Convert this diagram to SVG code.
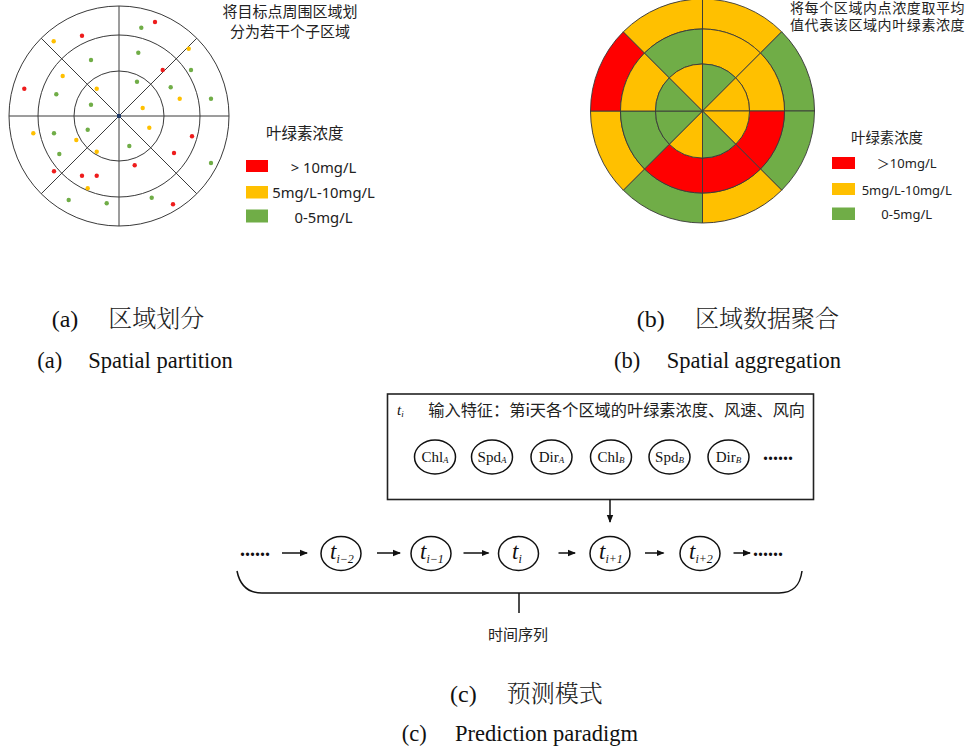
<svg xmlns="http://www.w3.org/2000/svg" xmlns:xlink="http://www.w3.org/1999/xlink" width="970" height="751" viewBox="0 0 970 751">
<style>
.bg{fill:#fff}
.ln{stroke:#3a3a3a;stroke-width:1;fill:none}
.sec{stroke:#3a3a3a;stroke-width:0.9}
.R{fill:#ff0000}.Y{fill:#ffc000}.G{fill:#70ad47}
.dr{fill:#ee1c1c}.dy{fill:#ffc000}.dg{fill:#70ad47}
.cjk{font-family:"Noto Sans CJK SC","Noto Sans",sans-serif;fill:#222}
.leg{font-family:"Noto Sans","Noto Sans CJK SC",sans-serif;fill:#222}
.cap{font-family:"Liberation Serif","Noto Serif CJK SC","Noto Sans CJK SC",serif;fill:#111}
.capz{font-weight:300;fill:#222}
.ser{font-family:"Liberation Serif",serif;fill:#111}
.it{font-style:italic}
.nd{fill:#fff;stroke:#111;stroke-width:1.5}
.con{stroke:#111;stroke-width:1.5;fill:none}
</style>
<defs>
<radialGradient id="lg" cx="0.5" cy="0.5" r="0.5">
<stop offset="0" stop-color="#ffffff"/>
<stop offset="0.6" stop-color="#f7f8fc"/>
<stop offset="1" stop-color="#e7ebf4"/>
</radialGradient>
<path id="so" d="M0,-112 A112,112 0 0 1 79.196,-79.196 L57.983,-57.983 A82,82 0 0 0 0,-82 Z"/>
<path id="sm" d="M0,-82 A82,82 0 0 1 57.983,-57.983 L33.234,-33.234 A47,47 0 0 0 0,-47 Z"/>
<path id="si" d="M0,0 L0,-47 A47,47 0 0 1 33.234,-33.234 Z"/>
<marker id="ah" markerWidth="8" markerHeight="8" refX="7" refY="4" orient="auto" markerUnits="userSpaceOnUse">
<path d="M0,0.8 L8,4 L0,7.2 Z" fill="#111"/>
</marker>
</defs>
<rect class="bg" x="0" y="0" width="970" height="751"/>

<g id="partition">
<circle cx="119" cy="116" r="110" fill="url(#lg)" class="ln"/>
<circle cx="119" cy="116" r="81" class="ln"/>
<circle cx="119" cy="116" r="45" class="ln"/>
<line class="ln" x1="9" y1="116" x2="229" y2="116"/>
<line class="ln" x1="119" y1="6" x2="119" y2="226"/>
<line class="ln" x1="41.2" y1="38.2" x2="196.8" y2="193.8"/>
<line class="ln" x1="196.8" y1="38.2" x2="41.2" y2="193.8"/>
<rect x="117" y="114" width="4" height="4" fill="#1f3864"/>
<g>
<circle class="dg" cx="141.3" cy="27.7" r="2.2"/>
<circle class="dr" cx="155" cy="22" r="2.2"/>
<circle class="dr" cx="82" cy="35.7" r="2.2"/>
<circle class="dy" cx="53.7" cy="41.3" r="2.2"/>
<circle class="dy" cx="188.7" cy="48.7" r="2.2"/>
<circle class="dg" cx="138.3" cy="52.7" r="2.2"/>
<circle class="dg" cx="91" cy="60" r="2.2"/>
<circle class="dr" cx="162.7" cy="70" r="2.2"/>
<circle class="dg" cx="191" cy="70" r="2.2"/>
<circle class="dy" cx="62.7" cy="76" r="2.2"/>
<circle class="dg" cx="137" cy="81.7" r="2.2"/>
<circle class="dg" cx="170.7" cy="87.3" r="2.2"/>
<circle class="dr" cx="24.3" cy="88.7" r="2.2"/>
<circle class="dy" cx="96.7" cy="88.7" r="2.2"/>
<circle class="dg" cx="56.3" cy="94.3" r="2.2"/>
<circle class="dy" cx="179.7" cy="98.7" r="2.2"/>
<circle class="dg" cx="211" cy="98.7" r="2.2"/>
<circle class="dg" cx="91" cy="104.7" r="2.2"/>
<circle class="dy" cx="142.7" cy="108" r="2.2"/>
<circle class="dy" cx="149.3" cy="127.7" r="2.2"/>
<circle class="dg" cx="87.7" cy="129.7" r="2.2"/>
<circle class="dy" cx="33.3" cy="133.3" r="2.2"/>
<circle class="dg" cx="54" cy="133.3" r="2.2"/>
<circle class="dr" cx="192" cy="136.3" r="2.2"/>
<circle class="dy" cx="76.3" cy="140" r="2.2"/>
<circle class="dg" cx="129.3" cy="146" r="2.2"/>
<circle class="dy" cx="96.7" cy="151.7" r="2.2"/>
<circle class="dr" cx="174" cy="153" r="2.2"/>
<circle class="dg" cx="59.3" cy="154" r="2.2"/>
<circle class="dg" cx="211" cy="163" r="2.2"/>
<circle class="dr" cx="134.7" cy="165.3" r="2.2"/>
<circle class="dr" cx="54" cy="171.3" r="2.2"/>
<circle class="dr" cx="82" cy="175.7" r="2.2"/>
<circle class="dr" cx="96.7" cy="175.7" r="2.2"/>
<circle class="dy" cx="87.7" cy="188.3" r="2.2"/>
<circle class="dg" cx="151.7" cy="197.7" r="2.2"/>
<circle class="dg" cx="68.7" cy="200" r="2.2"/>
<circle class="dg" cx="106.7" cy="203.3" r="2.2"/>
<circle class="dr" cx="173" cy="204.3" r="2.2"/>
</g>
<text class="cjk" x="290" y="17" font-size="15" text-anchor="middle">将目标点周围区域划</text>
<text class="cjk" x="290" y="37" font-size="15" text-anchor="middle">分为若干个子区域</text>
<text class="cjk" x="266" y="139" font-size="15.5">叶绿素浓度</text>
<rect class="R" x="246" y="160" width="22" height="12"/>
<rect class="Y" x="246" y="186" width="22" height="12.5"/>
<rect class="G" x="246" y="209.5" width="22" height="13"/>
<text class="leg" x="323.5" y="173" font-size="14.8" text-anchor="middle">&gt; 10mg/L</text>
<text class="leg" x="323.5" y="198" font-size="14.8" text-anchor="middle">5mg/L-10mg/L</text>
<text class="leg" x="323.5" y="222.5" font-size="14.8" text-anchor="middle">0-5mg/L</text>
</g>

<g id="aggregation">
<g transform="translate(702.5 111)">
<use xlink:href="#so" class="sec Y" transform="rotate(0)"/>
<use xlink:href="#so" class="sec G" transform="rotate(45)"/>
<use xlink:href="#so" class="sec G" transform="rotate(90)"/>
<use xlink:href="#so" class="sec Y" transform="rotate(135)"/>
<use xlink:href="#so" class="sec G" transform="rotate(180)"/>
<use xlink:href="#so" class="sec Y" transform="rotate(225)"/>
<use xlink:href="#so" class="sec R" transform="rotate(270)"/>
<use xlink:href="#so" class="sec Y" transform="rotate(315)"/>
<use xlink:href="#sm" class="sec Y" transform="rotate(0)"/>
<use xlink:href="#sm" class="sec Y" transform="rotate(45)"/>
<use xlink:href="#sm" class="sec R" transform="rotate(90)"/>
<use xlink:href="#sm" class="sec R" transform="rotate(135)"/>
<use xlink:href="#sm" class="sec R" transform="rotate(180)"/>
<use xlink:href="#sm" class="sec G" transform="rotate(225)"/>
<use xlink:href="#sm" class="sec Y" transform="rotate(270)"/>
<use xlink:href="#sm" class="sec G" transform="rotate(315)"/>
<use xlink:href="#si" class="sec G" transform="rotate(0)"/>
<use xlink:href="#si" class="sec Y" transform="rotate(45)"/>
<use xlink:href="#si" class="sec Y" transform="rotate(90)"/>
<use xlink:href="#si" class="sec G" transform="rotate(135)"/>
<use xlink:href="#si" class="sec Y" transform="rotate(180)"/>
<use xlink:href="#si" class="sec G" transform="rotate(225)"/>
<use xlink:href="#si" class="sec G" transform="rotate(270)"/>
<use xlink:href="#si" class="sec Y" transform="rotate(315)"/>
</g>
<text class="cjk" x="790" y="13" font-size="14" letter-spacing="0.6">将每个区域内点浓度取平均</text>
<text class="cjk" x="790" y="30" font-size="14" letter-spacing="0.6">值代表该区域内叶绿素浓度</text>
<text class="cjk" x="851" y="142.5" font-size="14.4">叶绿素浓度</text>
<rect class="R" x="832" y="157" width="23" height="12"/>
<rect class="Y" x="832" y="183" width="23" height="12"/>
<rect class="G" x="832" y="207.5" width="23" height="12.5"/>
<text class="leg" x="906.7" y="168.3" font-size="13" text-anchor="middle">＞10mg/L</text>
<text class="leg" x="906.7" y="195" font-size="13" text-anchor="middle">5mg/L-10mg/L</text>
<text class="leg" x="906.7" y="219" font-size="13" text-anchor="middle">0-5mg/L</text>
</g>

<g id="captions">
<text class="cap" y="327" font-size="24"><tspan x="51.7">(a)</tspan><tspan class="capz" x="108.3">区域划分</tspan></text>
<text class="cap" y="368" font-size="22.5"><tspan x="37.3">(a)</tspan><tspan x="88.3">Spatial partition</tspan></text>
<text class="cap" y="327" font-size="24"><tspan x="636.7">(b)</tspan><tspan class="capz" x="695">区域数据聚合</tspan></text>
<text class="cap" y="368" font-size="22.5"><tspan x="614">(b)</tspan><tspan x="666.7">Spatial aggregation</tspan></text>
<text class="cap" y="701.5" font-size="24"><tspan x="450">(c)</tspan><tspan class="capz" x="506.7">预测模式</tspan></text>
<text class="cap" y="741" font-size="22.5"><tspan x="401.7">(c)</tspan><tspan x="455">Prediction paradigm</tspan></text>
</g>

<g id="input-box">
<rect x="387.5" y="394" width="426" height="105.5" fill="#fff" stroke="#222" stroke-width="1.6"/>
<text class="ser it" x="397" y="415" font-size="15" fill="#444">t<tspan font-size="9" dy="2">i</tspan></text>
<text class="cjk" x="428.3" y="416" font-size="16.2">输入特征：第i天各个区域的叶绿素浓度、风速、风向</text>
</g>
<g id="feat-chlA"><ellipse class="nd" cx="435" cy="457" rx="20.5" ry="17"/><text class="ser" x="435" y="462" font-size="15" text-anchor="middle">Chl<tspan class="it" font-size="9" dy="1">A</tspan></text></g>
<g id="feat-spdA"><ellipse class="nd" cx="492" cy="457" rx="20.5" ry="17"/><text class="ser" x="492" y="462" font-size="15" text-anchor="middle">Spd<tspan class="it" font-size="9" dy="1">A</tspan></text></g>
<g id="feat-dirA"><ellipse class="nd" cx="551.5" cy="457" rx="20.5" ry="17"/><text class="ser" x="551.5" y="462" font-size="15" text-anchor="middle">Dir<tspan class="it" font-size="9" dy="1">A</tspan></text></g>
<g id="feat-chlB"><ellipse class="nd" cx="611" cy="457" rx="20.5" ry="17"/><text class="ser" x="611" y="462" font-size="15" text-anchor="middle">Chl<tspan class="it" font-size="9" dy="1">B</tspan></text></g>
<g id="feat-spdB"><ellipse class="nd" cx="669.5" cy="457" rx="20.5" ry="17"/><text class="ser" x="669.5" y="462" font-size="15" text-anchor="middle">Spd<tspan class="it" font-size="9" dy="1">B</tspan></text></g>
<g id="feat-dirB"><ellipse class="nd" cx="728.5" cy="457" rx="20.5" ry="17"/><text class="ser" x="728.5" y="462" font-size="15" text-anchor="middle">Dir<tspan class="it" font-size="9" dy="1">B</tspan></text></g>
<text class="ser" x="763" y="460" font-size="20" font-weight="bold">......</text>

<g id="t-im2"><ellipse class="nd" cx="341" cy="553.5" rx="20" ry="17"/><text class="ser it" x="330" y="559" font-size="23">t<tspan font-size="12" dy="4">i−2</tspan></text></g>
<g id="t-im1"><ellipse class="nd" cx="431" cy="553.5" rx="20" ry="17"/><text class="ser it" x="420" y="559" font-size="23">t<tspan font-size="12" dy="4">i−1</tspan></text></g>
<g id="t-i"><ellipse class="nd" cx="518.5" cy="553.5" rx="20" ry="17"/><text class="ser it" x="512" y="559" font-size="23">t<tspan font-size="12" dy="4">i</tspan></text></g>
<g id="t-ip1"><ellipse class="nd" cx="610" cy="553.5" rx="20" ry="17"/><text class="ser it" x="599" y="559" font-size="23">t<tspan font-size="12" dy="4">i+1</tspan></text></g>
<g id="t-ip2"><ellipse class="nd" cx="700" cy="553.5" rx="20" ry="17"/><text class="ser it" x="689" y="559" font-size="23">t<tspan font-size="12" dy="4">i+2</tspan></text></g>
<text class="ser" x="240" y="556" font-size="20" font-weight="bold">......</text>
<text class="ser" x="753" y="556" font-size="20" font-weight="bold">......</text>

<g id="connectors">
<line class="con" x1="610" y1="499.5" x2="610" y2="522" marker-end="url(#ah)"/>
<line class="con" x1="282" y1="553" x2="307" y2="553" marker-end="url(#ah)"/>
<line class="con" x1="377" y1="553" x2="400" y2="553" marker-end="url(#ah)"/>
<line class="con" x1="463.5" y1="553" x2="488.5" y2="553" marker-end="url(#ah)"/>
<line class="con" x1="558.5" y1="553" x2="575" y2="553" marker-end="url(#ah)"/>
<line class="con" x1="645" y1="553" x2="663.5" y2="553" marker-end="url(#ah)"/>
<line class="con" x1="733.5" y1="553" x2="750" y2="553" marker-end="url(#ah)"/>
<path class="con" d="M237,571 C240,586 248,593 262,593 L779,593 C793,593 800,586 802,571"/>
<line class="con" x1="519" y1="593" x2="519" y2="613"/>
</g>
<text class="cjk" x="518" y="640" font-size="15" text-anchor="middle">时间序列</text>
</svg>
